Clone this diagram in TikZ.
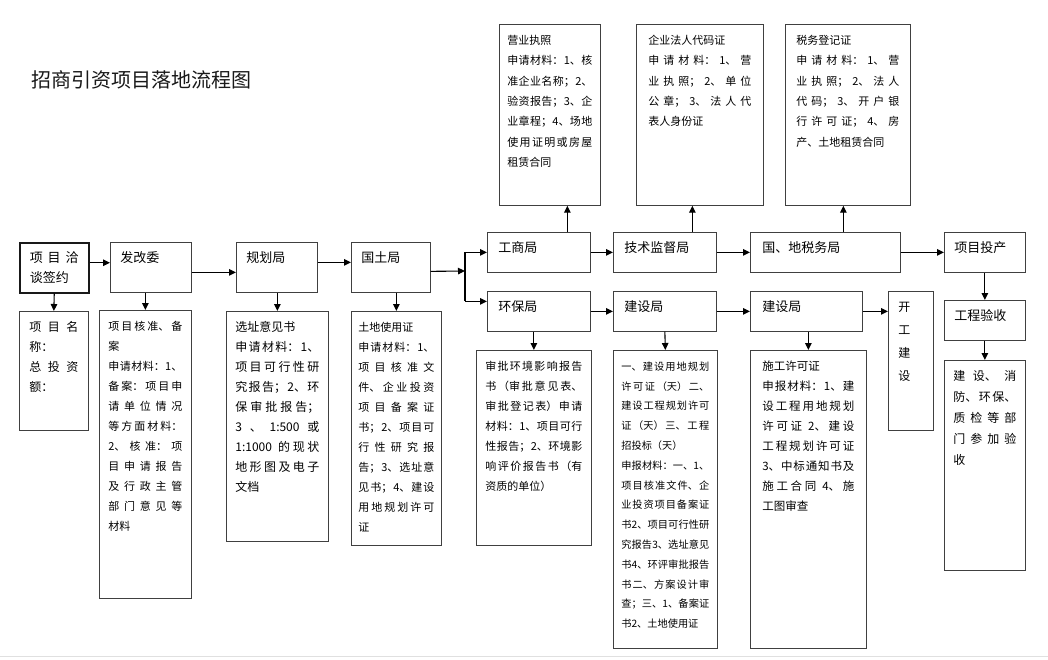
\documentclass[tikz,border=0pt]{standalone}
\usepackage{fontspec}
\setmainfont{Noto Sans CJK SC}
\usetikzlibrary{arrows.meta}
\XeTeXlinebreaklocale "zh"
\XeTeXlinebreakskip=0pt plus 1pt
\tolerance=9999
\hbadness=10000
\hfuzz=6pt

\tikzset{
  box/.style={draw=black!75, line width=0.7pt, anchor=north west, inner ysep=6pt, align=justify,
    text height=14pt, text=black, font=\fontsize{11}{20}\selectfont},
  lbl/.style={box, font=\fontsize{13}{20}\selectfont},
  sz/.style n args={3}{inner xsep=#3pt, text width=#1pt-2*#3pt, text depth=#2pt-26pt},
  arr/.style={-{Triangle[length=7pt,width=6.5pt]}, line width=1.1pt, black}
}

\begin{document}
\begin{tikzpicture}[x=1pt, y=-1pt]
    \useasboundingbox (0,0) rectangle (1048,659);
    \fill[white] (0,0) rectangle (1048,659);
    \draw[black!12, line width=1pt] (0,656) -- (1048,656);

    \node[anchor=west, text=black!90, font=\fontsize{20}{24}\selectfont] (title) at (28,80) {招商引资项目落地流程图};

    % left row
    \node[lbl, sz={69}{50}{10}, line width=1.5pt, draw=black!90] (qt) at (19,242) {项目洽\break 谈签约};
    \node[box, sz={69}{119}{10}, font=\fontsize{12}{20}\selectfont] (xmmc) at (19,311) {项目名\break 称：\\总投资\break 额：};
    \node[lbl, sz={81}{50}{10}] (fgw) at (110,242) {发改委};
    \node[box, sz={92}{288}{9}] (fgwd) at (99,310) {项目核准、备\break 案\\申请材料：1、\break 备案：项目申\break 请单位情况\break 等方面材料：\break 2、核准：项\break 目申请报告\break 及行政主管\break 部门意见等\break 材料};
    \node[lbl, sz={81}{50}{10}] (ghj) at (236,242) {规划局};
    \node[box, sz={102}{230}{9}, font=\fontsize{12}{20}\selectfont] (ghjd) at (226,311) {选址意见书\\申请材料：1、\break 项目可行性研\break 究报告；2、环\break 保审批报告；\break 3 、 1:500 或\break 1:1000 的现状\break 地形图及电子\break 文档};
    \node[lbl, sz={79}{50}{10}] (gtj) at (351,242) {国土局};
    \node[box, sz={90}{234}{7}] (gtjd) at (351,311) {土地使用证\\申请材料：1、\break 项目核准文\break 件、企业投资\break 项目备案证\break 书；2、项目可\break 行性研究报\break 告；3、选址意\break 见书；4、建设\break 用地规划许可\break 证};

    % upper row
    \node[lbl, sz={103}{40}{11}] (gsj) at (487,232) {工商局};
    \node[lbl, sz={103}{40}{11}] (jsj) at (613,232) {技术监督局};
    \node[lbl, sz={150}{40}{12}] (swj) at (750,232) {国、地税务局};
    \node[lbl, sz={81}{40}{10}] (tc) at (944,232) {项目投产};
    \node[lbl, sz={81}{40}{10}] (ys) at (944,300) {工程验收};
    \node[box, sz={81}{210}{9}, font=\fontsize{12}{21}\selectfont] (ysd) at (944,360) {建设、消\break 防、环保、\break 质检等部\break 门参加验\break 收};

    % certificates on top
    \node[box, sz={101}{181}{8}, font=\fontsize{11}{20.4}\selectfont] (yyzz) at (499,24) {营业执照\\申请材料：1、核\break 准企业名称；2、\break 验资报告；3、企\break 业章程；4、场地\break 使用证明或房屋\break 租赁合同};
    \node[box, sz={127}{181}{12}, font=\fontsize{11}{20.4}\selectfont] (dmz) at (636,24) {企业法人代码证\\申请材料：1、营\break 业执照；2、单位\break 公章；3、法人代\break 表人身份证};
    \node[box, sz={125}{181}{11}, font=\fontsize{11}{20.4}\selectfont] (swdj) at (785,24) {\parfillskip=0pt 税务登记证\\申请材料：1、营\break 业执照；2、法人\break 代码；3、开户银\break 行许可证；4、房\break 产、土地租赁合同};

    % lower row
    \node[lbl, sz={103}{40}{11}] (hbj) at (487,291) {环保局};
    \node[box, sz={115}{195}{9}] (hbjd) at (476,350) {审批环境影响报告\break 书（审批意见表、\break 审批登记表）申请\break 材料：1、项目可行\break 性报告；2、环境影\break 响评价报告书（有\break 资质的单位）};
    \node[lbl, sz={103}{40}{11}] (jsa) at (613,291) {建设局};
    \node[box, sz={104}{298}{8}, font=\fontsize{10.2}{19.8}\selectfont] (jsad) at (613,350) {一、建设用地规划\break 许可证（天）二、\break 建设工程规划许可\break 证（天）三、工程\break 招投标（天）\\申报材料：一、1、\break 项目核准文件、企\break 业投资项目备案证\break 书2、项目可行性研\break 究报告3、选址意见\break 书4、环评审批报告\break 书二、方案设计审\break 查；三、1、备案证\break 书2、土地使用证};
    \node[lbl, sz={112}{40}{12}] (jsb) at (750,291) {建设局};
    \node[box, sz={116}{298}{12}, font=\fontsize{11.5}{20}\selectfont] (jsbd) at (750,350) {施工许可证\\申报材料：1、建\break 设工程用地规划\break 许可证 2、建设\break 工程规划许可证\break 3、中标通知书及\break 施工合同 4、施\break 工图审查};
    \node[box, sz={45}{139}{10}, font=\fontsize{12}{20}\selectfont] (kg) at (888,291) {开\\[3pt]工\\[3pt]建\\[3pt]设};

    % connectors
    \draw[arr] ([yshift=5pt]qt.east) -- ([yshift=5pt]qt.east -| fgw.west);
    \draw[arr] (qt.south) -- (xmmc.north);
    \draw[arr] ([yshift=-5pt]fgw.east) -- ([yshift=-5pt]fgw.east -| ghj.west);
    \draw[arr] (fgw.south -| fgwd.north) -- (fgwd.north);
    \draw[arr] ([yshift=5pt]ghj.east) -- ([yshift=5pt]ghj.east -| gtj.west);
    \draw[arr] (ghj.south -| ghjd.north) -- (ghjd.north);
    \draw[arr] (gtj.south -| gtjd.north) -- (gtjd.north);

    \coordinate (fork) at (465,271);
    \coordinate (hbjin) at ([yshift=10pt]hbj.west);
    \draw[arr] ([yshift=-4pt]gtj.east) -- (fork);
    \draw[line width=1.1pt, black] (fork |- gsj.west) -- (fork |- hbjin);
    \draw[arr] (fork |- gsj.west) -- (gsj.west);
    \draw[arr] (fork |- hbjin) -- (hbjin);

    \draw[arr] (gsj.east) -- (jsj.west);
    \draw[arr] (jsj.east) -- (swj.west);
    \draw[arr] (swj.east) -- (tc.west);
    \draw[arr] (tc.south) -- (ys.north);
    \draw[arr] (ys.south) -- (ysd.north);

    \draw[arr] ([xshift=28.5pt]gsj.north) -- ([xshift=28.5pt]gsj.north |- yyzz.south);
    \draw[arr] ([xshift=27.5pt]jsj.north) -- ([xshift=27.5pt]jsj.north |- dmz.south);
    \draw[arr] ([xshift=18pt]swj.north) -- ([xshift=18pt]swj.north |- swdj.south);

    \draw[arr] (hbj.east) -- (jsa.west);
    \draw[arr] (jsa.east) -- (jsb.west);
    \draw[arr] (jsb.east) -- (jsb.east -| kg.west);
    \draw[arr] (hbj.south -| hbjd.north) -- (hbjd.north);
    \draw[arr] (jsa.south) -- (jsad.north);
    \draw[arr] (jsb.south -| jsbd.north) -- (jsbd.north);
\end{tikzpicture}
\end{document}
